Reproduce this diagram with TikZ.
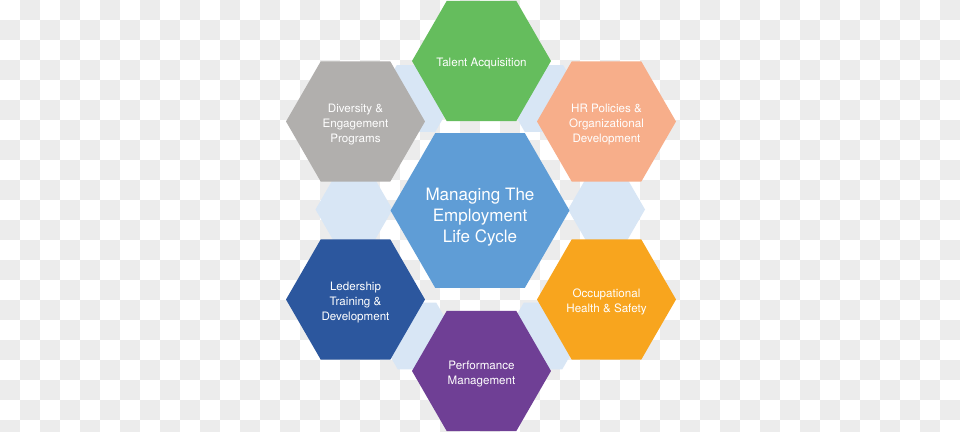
\documentclass[tikz,border=0pt]{standalone}
\usepackage{fontspec}
\setmainfont{TeX Gyre Heros}
\usepackage{tikz}
\usetikzlibrary{shapes.geometric}

\definecolor{checker}{HTML}{ECECEC}
\definecolor{pale}{HTML}{D8E6F5}
\definecolor{cyclebl}{HTML}{5F9DD6}
\definecolor{talent}{HTML}{65BD5D}
\definecolor{diverse}{HTML}{B1AFAD}
\definecolor{policy}{HTML}{F7AE8A}
\definecolor{leader}{HTML}{2C579E}
\definecolor{safety}{HTML}{F8A51E}
\definecolor{perform}{HTML}{6F3F95}

\begin{document}
\begin{tikzpicture}[x=0.02cm,y=-0.02cm,
                    hex node/.style={regular polygon,regular polygon sides=6,inner sep=0pt,outer sep=0pt,
                      minimum size=2.78cm},
                    big node/.style={hex node,minimum size=3.58cm},
                    pale node/.style={hex node,minimum size=1.54cm,fill=pale},
                    hex text/.style={text=white,align=center,inner sep=0pt,yshift=-0.055cm,
                      font=\fontsize{6.6}{8.5}\selectfont},
                    big text/.style={hex text,yshift=-0.08cm,font=\fontsize{9.7}{11.9}\selectfont}]

  \clip (0,0) rectangle (960,432);
  % checkerboard background
  \fill[white] (0,0) rectangle (960,432);
  \foreach \i in {1,3,...,47}
    \foreach \j in {0,2,...,20}
      \fill[checker] (20*\i,20*\j) rectangle ++(20,20);
  \foreach \i in {0,2,...,46}
    \foreach \j in {1,3,...,21}
      \fill[checker] (20*\i,20*\j) rectangle ++(20,20);

  % pale hexagons behind
  \node[pale node] (p1) at (416,98.5) {};
  \node[pale node] (p2) at (544,98.5) {};
  \node[pale node] (p3) at (354,209.5) {};
  \node[pale node] (p4) at (606.5,209.5) {};
  \node[pale node] (p5) at (417,336) {};
  \node[pale node] (p6) at (543,336) {};

  \node[big node,fill=cyclebl] (c) at (480,210.5) {};
  \node[hex node,fill=talent] (1) at (481.5,61) {};
  \node[hex node,fill=policy] (2) at (606.5,121.5) {};
  \node[hex node,fill=safety] (3) at (606.5,299.5) {};
  \node[hex node,fill=perform] (4) at (481.5,371) {};
  \node[hex node,fill=leader] (5) at (355.5,299.5) {};
  \node[hex node,fill=diverse] (6) at (355.5,121.5) {};

  % labels
  \node[big text] (ct) at (c) {Managing The\\Employment\\Life Cycle};
  \node[hex text] (1t) at (1) {Talent Acquisition};
  \node[hex text] (2t) at (2) {HR Policies \&\\Organizational\\Development};
  \node[hex text] (3t) at (3) {Occupational\\Health \& Safety};
  \node[hex text] (4t) at (4) {Performance\\Management};
  \node[hex text] (5t) at (5) {Ledership\\Training \&\\Development};
  \node[hex text] (6t) at (6) {Diversity \&\\Engagement\\Programs};

\end{tikzpicture}
\end{document}
